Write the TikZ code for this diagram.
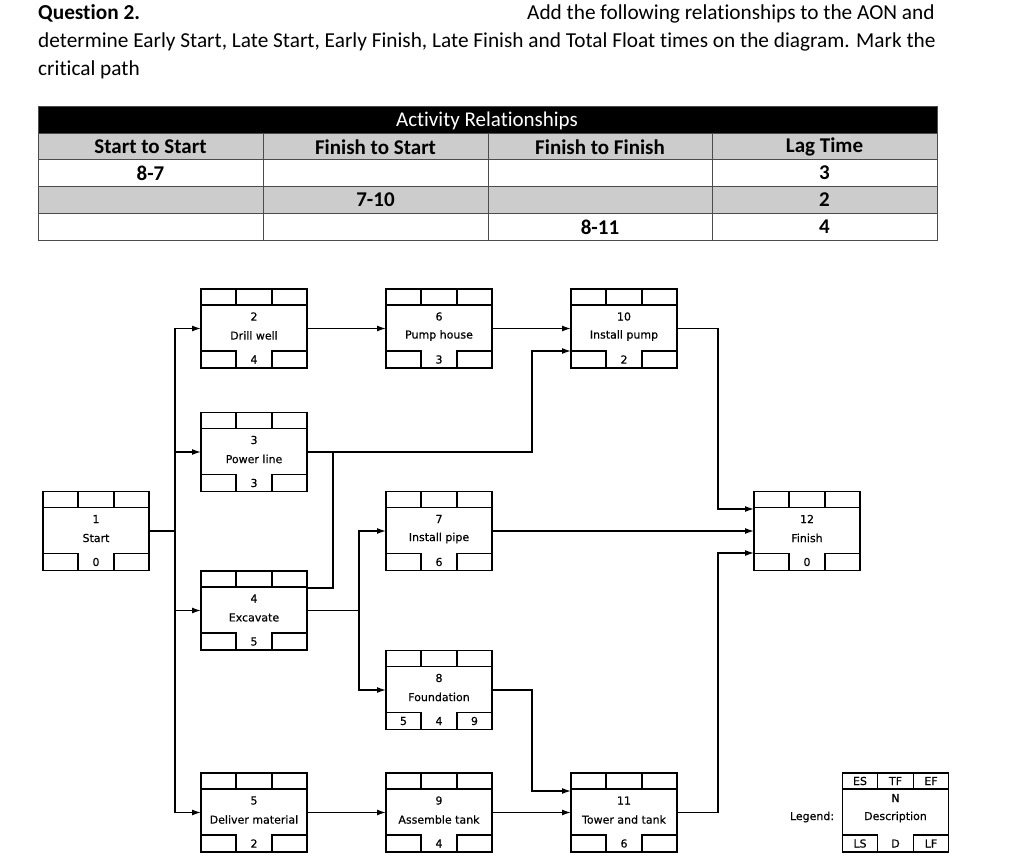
\documentclass[tikz,border=0pt]{standalone}
\usepackage{fontspec}
\setmainfont[Ligatures=NoCommon]{Carlito}
\newfontfamily\dfont[FakeBold=0.4]{DejaVu Sans}
\usetikzlibrary{arrows.meta}
\tikzset{
  abox/.style={draw, line width=1.7pt, minimum width=106pt, minimum height=79pt, inner sep=0pt, outer sep=0pt},
  cell/.style={line width=1.3pt},
  ntext/.style={inner sep=0pt, font=\dfont\fontsize{11}{13}\selectfont},
  conn/.style={line width=1.4pt},
  arr/.style={line width=1.4pt, -{Latex[length=9pt,width=6pt]}},
  ttext/.style={inner sep=0pt, anchor=base west, font=\fontsize{21.3}{25}\selectfont},
  tab/.style={inner sep=0pt, font=\fontsize{21}{25}\selectfont\bfseries},
  grid/.style={draw=black!70, line width=0.8pt}
}
\newcommand\actbox[8]{%
  \begin{scope}[shift={(#2,#3)}]
  \node[abox] (#1) at (0,0) {};
  \draw[cell] (-53,-23.5) -- (53,-23.5);
  \draw[cell] (-18,-39.5) -- (-18,-23.5) (18,-39.5) -- (18,-23.5);
  \draw[cell] (-53,22.5) -- (-18,22.5) -- (-18,39.5) (53,22.5) -- (18,22.5) -- (18,39.5);
  \node[ntext] (#1-n) at (0,-12) {#4};
  \node[ntext] (#1-d) at (0,7) {#5};
  \node[ntext] (#1-t) at (0,31) {#6};
  \node[ntext] (#1-ls) at (-35.5,31) {#7};
  \node[ntext] (#1-lf) at (35.5,31) {#8};
  \end{scope}}
\begin{document}
\begin{tikzpicture}[x=1pt,y=-1pt]
\useasboundingbox[fill=white] (0,0) rectangle (1028,867);
% title text
\node[ttext, font=\fontsize{21.3}{25}\selectfont\bfseries] (q) at (38,20) {Question 2.};
\node[ttext] (t1) at (527,20) {Add the following relationships to the AON and};
\node[ttext] (t2) at (38,48) {determine Early Start, Late Start, Early Finish, Late Finish and Total Float times on the diagram. Mark the};
\node[ttext] (t3) at (38,76) {critical path};
% table
\fill[black] (38,106) rectangle (937,133);
\fill[black!20] (38,133) rectangle (937,159);
\fill[black!20] (38,186) rectangle (937,213);
\draw[grid] (38,133) -- (937,133) (38,159) -- (937,159) (38,186) -- (937,186) (38,213) -- (937,213);
\draw[grid] (263,133) -- (263,240) (488,133) -- (488,240) (712,133) -- (712,240);
\draw[grid] (38,106) rectangle (937,240);
\node[inner sep=0pt, text=white, font=\fontsize{21}{25}\selectfont] (th) at (487,121) {Activity Relationships};
\node[tab] (h1) at (150.5,147) {Start to Start};
\node[tab] (h2) at (375.5,147) {Finish to Start};
\node[tab] (h3) at (600,147) {Finish to Finish};
\node[tab] (h4) at (824.5,147) {Lag Time};
\node[tab] (r1a) at (150.5,173) {8-7};
\node[tab] (r1d) at (824.5,173) {3};
\node[tab] (r2b) at (375.5,200) {7-10};
\node[tab] (r2d) at (824.5,200) {2};
\node[tab] (r3c) at (600,227) {8-11};
\node[tab] (r3d) at (824.5,227) {4};
% activity boxes
\actbox{st}{96}{531}{1}{Start}{0}{}{}
\actbox{dw}{254}{328.5}{2}{Drill well}{4}{}{}
\actbox{pl}{254}{452}{3}{Power line}{3}{}{}
\actbox{ex}{254}{610.5}{4}{Excavate}{5}{}{}
\actbox{dm}{254}{812.5}{5}{Deliver material}{2}{}{}
\actbox{ph}{439}{328.5}{6}{Pump house}{3}{}{}
\actbox{ipp}{439}{531}{7}{Install pipe}{6}{}{}
\actbox{fd}{439}{690}{8}{Foundation}{4}{5}{9}
\actbox{at}{439}{812.5}{9}{Assemble tank}{4}{}{}
\actbox{ip}{624}{328.5}{10}{Install pump}{2}{}{}
\actbox{tt}{624}{812.5}{11}{Tower and tank}{6}{}{}
\actbox{fi}{807}{531}{12}{Finish}{0}{}{}
% legend
\begin{scope}[shift={(895.5,812.5)}]
  \node[abox] (lg) at (0,0) {};
  \draw[cell] (-53,-23.5) -- (53,-23.5);
  \draw[cell] (-18,-39.5) -- (-18,-23.5) (18,-39.5) -- (18,-23.5);
  \draw[cell] (-53,22.5) -- (-18,22.5) -- (-18,39.5) (53,22.5) -- (18,22.5) -- (18,39.5);
  \node[ntext] (lg-es) at (-35.5,-31.5) {ES};
  \node[ntext] (lg-tf) at (0,-31.5) {TF};
  \node[ntext] (lg-ef) at (35.5,-31.5) {EF};
  \node[ntext] (lg-n) at (0,-14.5) {N};
  \node[ntext] (lg-d) at (0,4.5) {Description};
  \node[ntext] (lg-ls) at (-35.5,31) {LS};
  \node[ntext] (lg-du) at (0,31) {D};
  \node[ntext] (lg-lf) at (35.5,31) {LF};
\end{scope}
\node[ntext] (lgl) at (812,817) {Legend:};
% connectors
\coordinate (j1) at (175,531);
\draw[conn] (st.east) -- (j1);
\draw[arr] (j1) |- (dw.west);
\draw[arr] (j1) |- (pl.west);
\draw[arr] (j1) |- (ex.west);
\draw[arr] (j1) |- (dm.west);
\draw[arr] (dw.east) -- (ph.west);
\draw[arr] (ph.east) -- (ip.west);
\draw[arr] (pl.east) -| (532,351) -- ([yshift=-22.5pt]ip.west);
\draw[conn] ([yshift=22.5pt]ex.east) -| (333,452);
\coordinate (j2) at (359,610.5);
\draw[conn] (ex.east) -- (j2);
\draw[arr] (j2) |- (ipp.west);
\draw[arr] (j2) |- (fd.west);
\draw[arr] (ipp.east) -- (fi.west);
\draw[arr] (ip.east) -| (718,509) -- ([yshift=22pt]fi.west);
\draw[arr] (fd.east) -| (532,791) -- ([yshift=21.5pt]tt.west);
\draw[arr] (dm.east) -- (at.west);
\draw[arr] (at.east) -- (tt.west);
\draw[arr] (tt.east) -| (718,553) -- ([yshift=-22pt]fi.west);
\end{tikzpicture}
\end{document}
